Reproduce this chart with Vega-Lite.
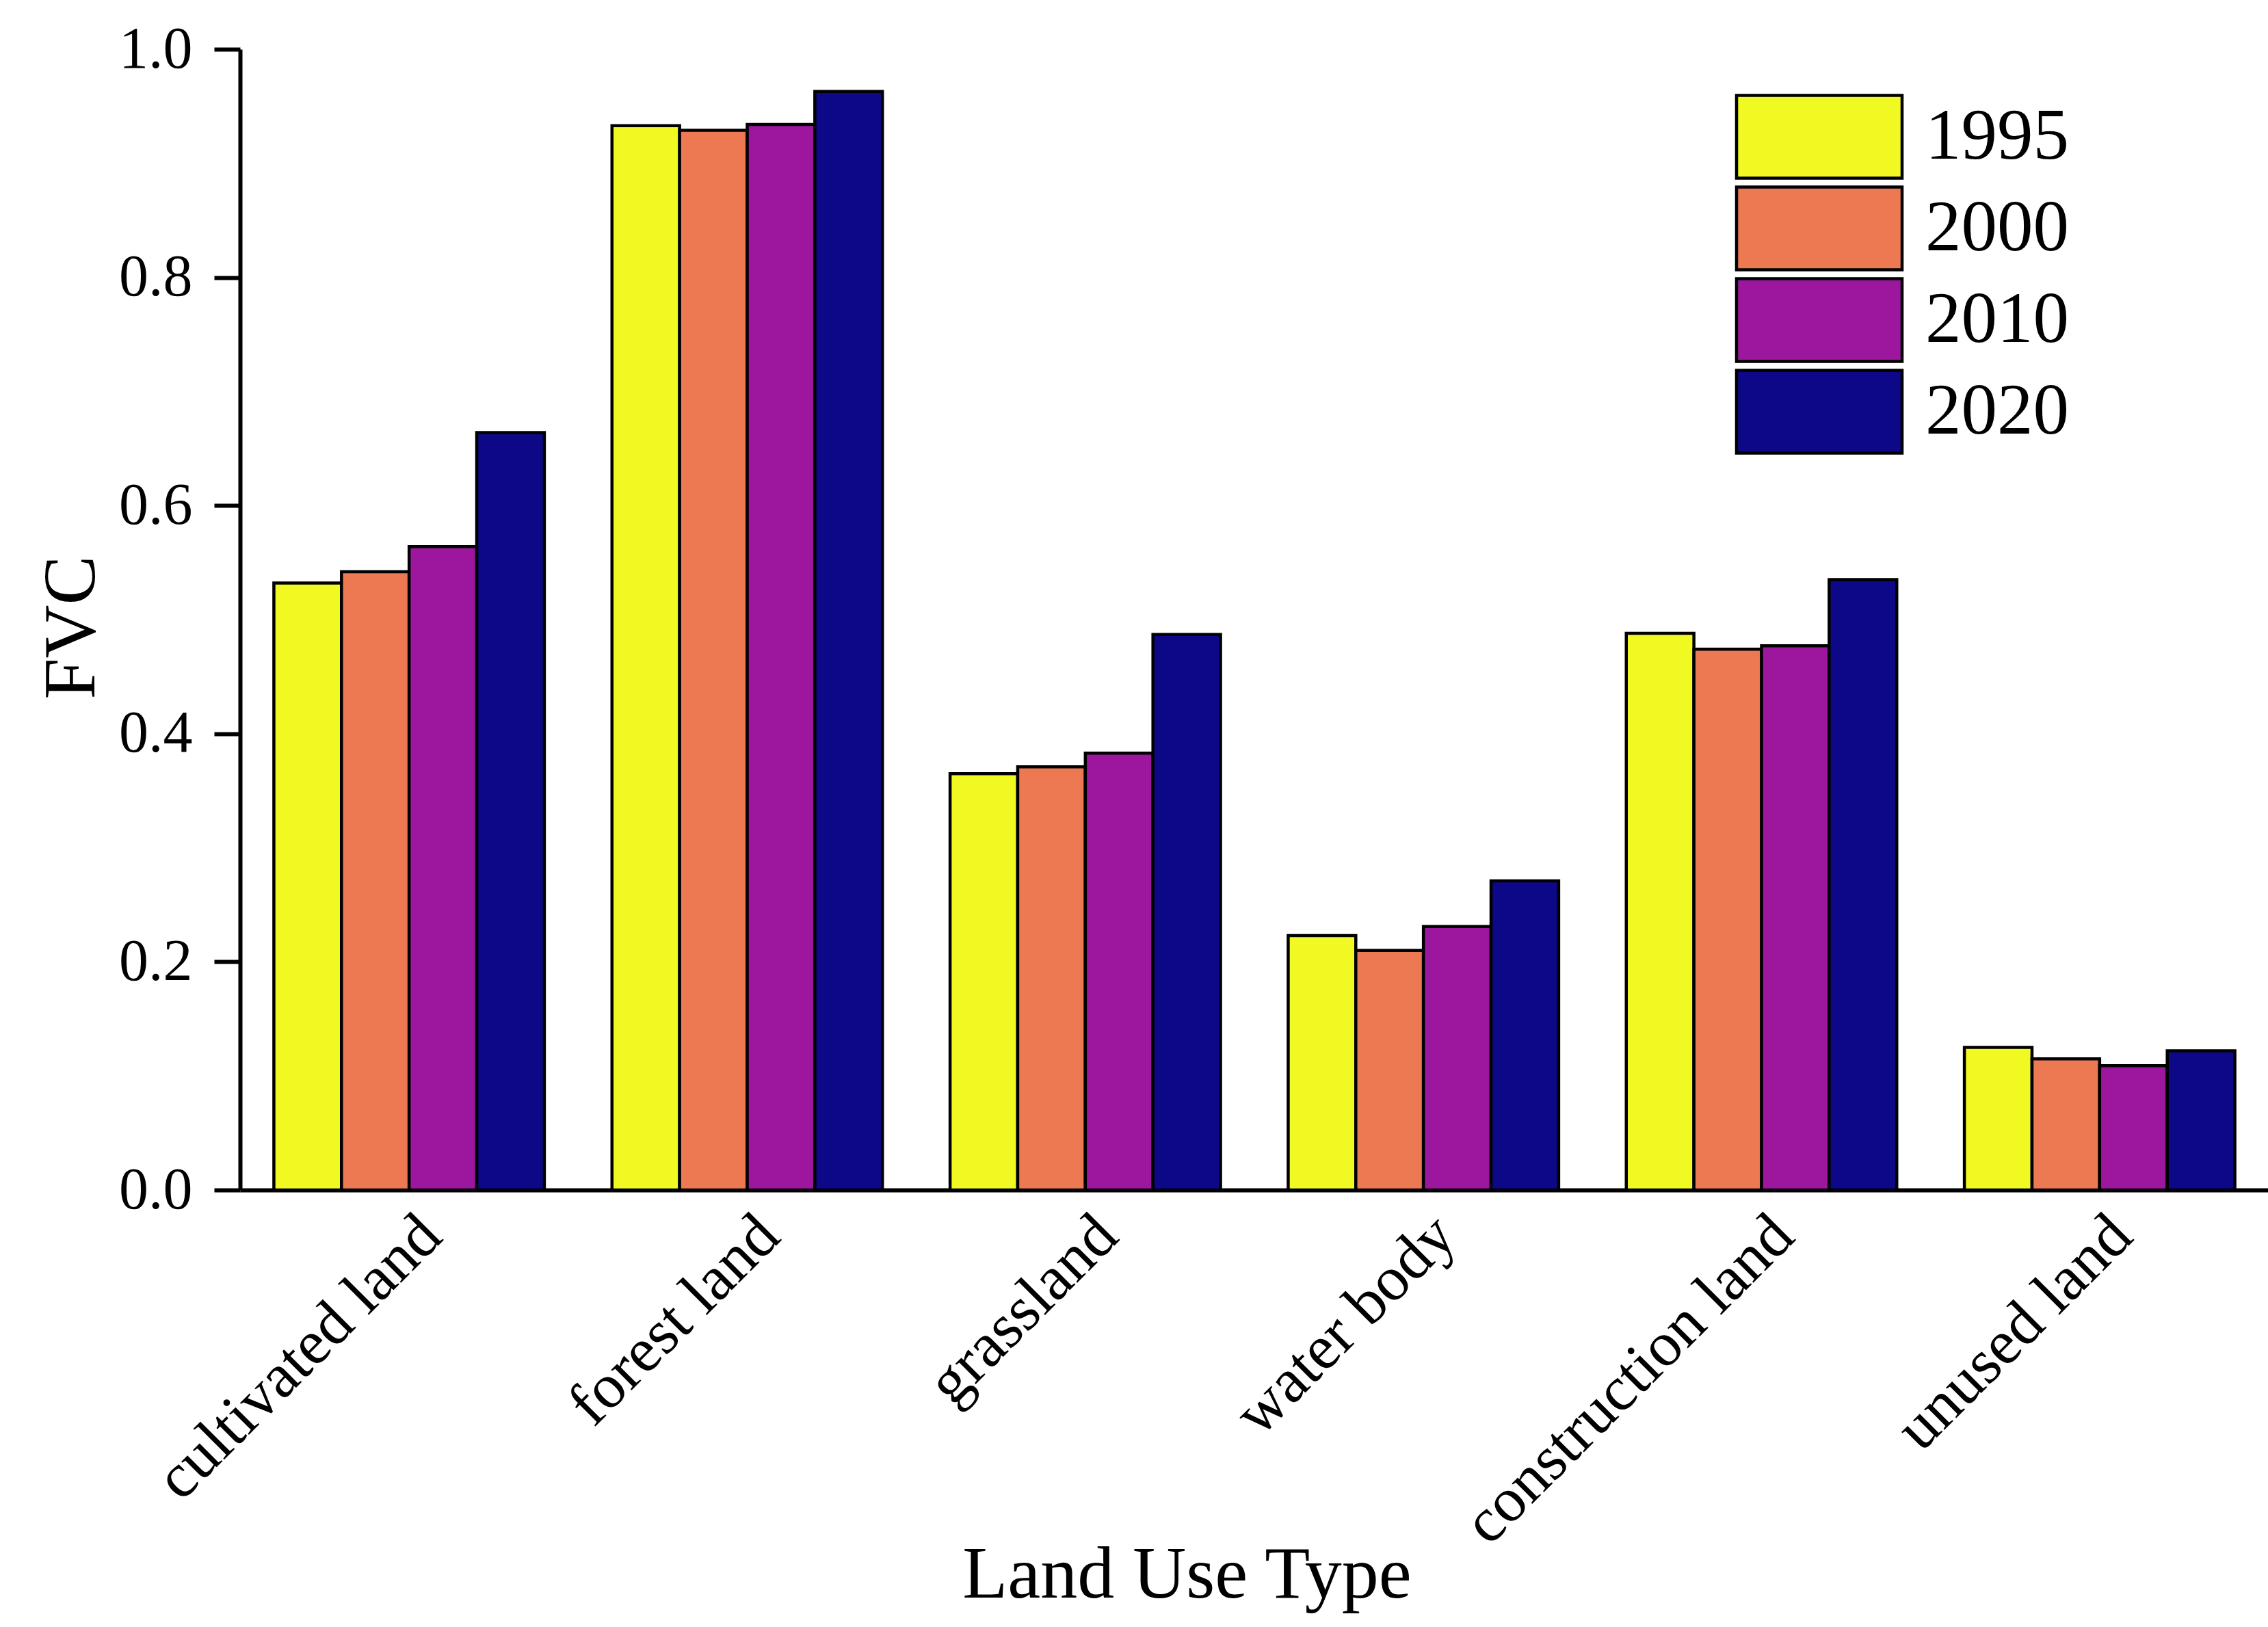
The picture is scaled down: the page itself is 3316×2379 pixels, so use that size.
{
  "$schema": "https://vega.github.io/schema/vega-lite/v6.json",
  "autosize": {"type": "none"},
  "padding": {"left": 351, "top": 72, "right": 0, "bottom": 639},
  "width": 2966,
  "height": 1668,
  "background": "white",
  "data": {
    "values": [
      {"type": "cultivated land", "year": "1995", "fvc": 0.532},
      {"type": "cultivated land", "year": "2000", "fvc": 0.542},
      {"type": "cultivated land", "year": "2010", "fvc": 0.564},
      {"type": "cultivated land", "year": "2020", "fvc": 0.664},
      {"type": "forest land", "year": "1995", "fvc": 0.933},
      {"type": "forest land", "year": "2000", "fvc": 0.929},
      {"type": "forest land", "year": "2010", "fvc": 0.934},
      {"type": "forest land", "year": "2020", "fvc": 0.963},
      {"type": "grassland", "year": "1995", "fvc": 0.365},
      {"type": "grassland", "year": "2000", "fvc": 0.371},
      {"type": "grassland", "year": "2010", "fvc": 0.383},
      {"type": "grassland", "year": "2020", "fvc": 0.487},
      {"type": "water body", "year": "1995", "fvc": 0.223},
      {"type": "water body", "year": "2000", "fvc": 0.210},
      {"type": "water body", "year": "2010", "fvc": 0.231},
      {"type": "water body", "year": "2020", "fvc": 0.271},
      {"type": "construction land", "year": "1995", "fvc": 0.488},
      {"type": "construction land", "year": "2000", "fvc": 0.474},
      {"type": "construction land", "year": "2010", "fvc": 0.477},
      {"type": "construction land", "year": "2020", "fvc": 0.535},
      {"type": "unused land", "year": "1995", "fvc": 0.125},
      {"type": "unused land", "year": "2000", "fvc": 0.115},
      {"type": "unused land", "year": "2010", "fvc": 0.109},
      {"type": "unused land", "year": "2020", "fvc": 0.122}
    ]
  },
  "mark": {"type": "bar", "stroke": "black", "strokeWidth": 4.5},
  "encoding": {
    "x": {
      "field": "type",
      "type": "nominal",
      "sort": ["cultivated land", "forest land", "grassland", "water body", "construction land", "unused land"],
      "scale": {"paddingInner": 0.2, "paddingOuter": 0.1},
      "axis": {
        "domain": true,
        "domainColor": "black",
        "domainWidth": 6,
        "ticks": false,
        "grid": false,
        "labelAngle": -45,
        "labelFontSize": 92,
        "labelColor": "black",
        "labelLimit": 2000,
        "labelPadding": 20,
        "title": "Land Use Type",
        "titleFontSize": 108,
        "titleFontWeight": "normal",
        "titleColor": "black",
        "titleX": 1384,
        "titleY": 595,
        "titleBaseline": "alphabetic",
        "titleAlign": "center"
      }
    },
    "xOffset": {
      "field": "year",
      "type": "nominal",
      "scale": {"paddingInner": 0, "paddingOuter": 0}
    },
    "y": {
      "field": "fvc",
      "type": "quantitative",
      "scale": {"domain": [0, 1], "nice": false},
      "axis": {
        "values": [0, 0.2, 0.4, 0.6, 0.8, 1.0],
        "format": ".1f",
        "domainColor": "black",
        "domainWidth": 6,
        "tickColor": "black",
        "tickSize": 38,
        "tickWidth": 6,
        "grid": false,
        "labelFontSize": 86,
        "labelColor": "black",
        "labelPadding": 32,
        "labelLimit": 1000,
        "title": "FVC",
        "titleFontSize": 108,
        "titleFontWeight": "normal",
        "titleColor": "black",
        "titleX": -214,
        "titleY": 845,
        "titleAngle": -90,
        "titleBaseline": "alphabetic",
        "titleAlign": "center"
      }
    },
    "color": {
      "field": "year",
      "type": "nominal",
      "scale": {
        "domain": ["1995", "2000", "2010", "2020"],
        "range": ["#F0F921", "#ED7953", "#9C179E", "#0D0887"]
      },
      "legend": {
        "orient": "none",
        "legendX": 2246,
        "legendY": 65,
        "title": null,
        "padding": 0,
        "symbolType": "M-2,-1H2V1H-2Z",
        "symbolSize": 14641,
        "symbolStrokeColor": "black",
        "symbolStrokeWidth": 4.5,
        "symbolOpacity": 1,
        "labelFontSize": 105,
        "labelColor": "black",
        "labelOffset": 92,
        "rowPadding": -6,
        "labelLimit": 1000
      }
    }
  },
  "config": {"view": {"stroke": null}, "font": "Liberation Serif"}
}
